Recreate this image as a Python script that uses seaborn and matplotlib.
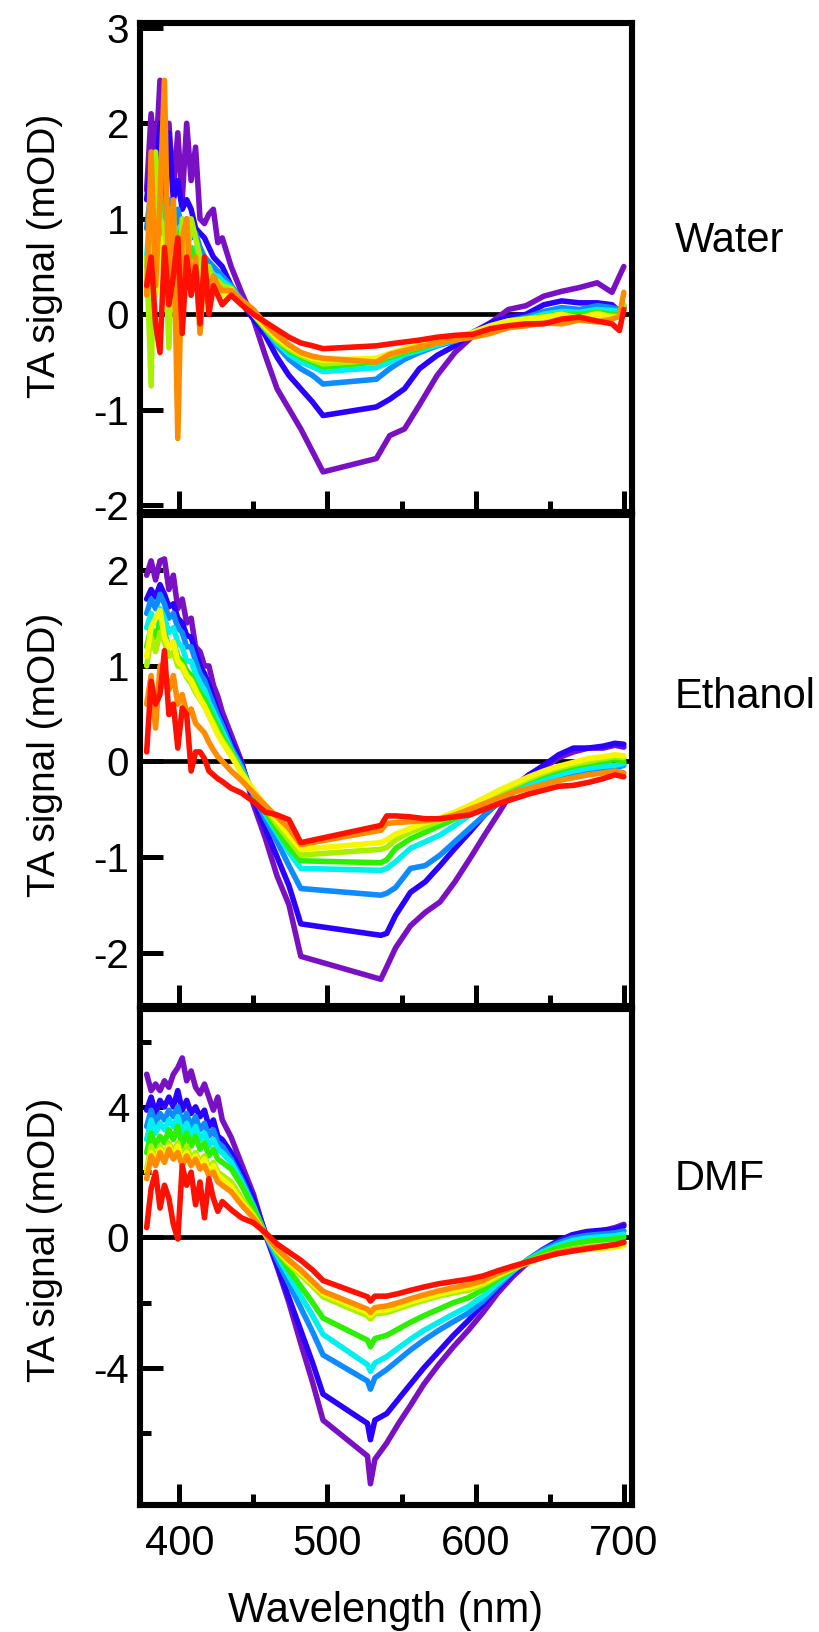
import matplotlib
matplotlib.use("Agg")
import matplotlib.pyplot as plt
from matplotlib.ticker import FixedLocator
import numpy as np
import pandas as pd
import seaborn as sns

# ---------------- data ----------------
series_names = ["purple", "blue", "dodger", "cyan", "green", "lime", "yellow", "orange", "red"]
series_colors = ["#7A10C4", "#2A00FF", "#0E8CFF", "#00F0F0", "#2CF000",
                 "#A8F000", "#F6F600", "#FF8C00", "#FF1000"]

noisy_wl = [378, 381, 384, 387, 390, 393, 396, 399, 402, 405, 408, 411, 414, 417, 420, 423, 426, 429]

# ---- Water ----
water_wl = noisy_wl + [435, 442, 450, 458, 466, 474, 482, 490, 497,
                       533, 542, 552, 562, 574, 586, 598, 610, 622, 634, 646, 658, 670, 682, 692, 697, 700]
water_purple = [1.3, 2.1, 1.6, 2.45, 1.5, 2.0, 1.3, 1.9, 1.2, 2.0, 1.4, 1.75, 1.0, 0.95, 1.05, 1.1, 0.75, 0.8,
                0.5, 0.23, -0.05, -0.43, -0.78, -0.99, -1.2, -1.44, -1.65,
                -1.51, -1.27, -1.2, -0.95, -0.64, -0.40, -0.23, -0.09, 0.05, 0.09, 0.19, 0.24, 0.28, 0.33, 0.23, 0.40, 0.50]
water_blue = [1.2, 1.6, 1.3, 2.0, 1.4, 1.9, 1.2, 1.4, 1.1, 1.2, 1.1, 0.9, 0.85, 0.8, 0.7, 0.6, 0.55, 0.5,
              0.3, 0.12, -0.05, -0.22, -0.45, -0.64, -0.78, -0.92, -1.06,
              -0.97, -0.89, -0.78, -0.57, -0.43, -0.33, -0.19, -0.09, -0.03, 0.0, 0.1, 0.14, 0.12, 0.12, 0.1, 0.03, 0.07]
water_dodger = [0.9, 1.3, 0.9, 1.5, 1.0, 1.2, 0.8, 1.1, 0.9, 1.0, 0.8, 0.85, 0.7, 0.6, 0.55, 0.5, 0.45, 0.4,
                0.3, 0.15, 0.0, -0.16, -0.33, -0.47, -0.57, -0.64, -0.73,
                -0.68, -0.57, -0.47, -0.40, -0.33, -0.28, -0.19, -0.12, -0.07, -0.03, 0.03, 0.07, 0.05, 0.09, 0.07, 0.05, 0.09]
water_cyan = [0.6, 1.2, 0.8, 1.3, 0.7, 1.1, 0.6, 0.9, 0.7, 0.8, 0.6, 0.7, 0.6, 0.5, 0.5, 0.4, 0.4, 0.35,
              0.28, 0.14, 0.0, -0.15, -0.3, -0.42, -0.5, -0.55, -0.6,
              -0.56, -0.5, -0.42, -0.38, -0.32, -0.27, -0.2, -0.13, -0.07, -0.05, 0.0, 0.03, 0.02, 0.05, 0.04, 0.03, 0.05]
water_green = [0.5, 1.0, 0.4, 1.2, 0.6, 1.0, 0.5, 0.8, 0.9, 0.6, 0.7, 0.5, 0.6, 0.45, 0.4, 0.35, 0.35, 0.3,
               0.27, 0.13, 0.0, -0.15, -0.28, -0.38, -0.45, -0.5, -0.55,
               -0.5, -0.45, -0.4, -0.36, -0.3, -0.27, -0.2, -0.14, -0.08, -0.05, -0.02, 0.0, 0.0, 0.02, 0.0, 0.0, 0.05]
water_lime = [0.6, -0.75, 1.7, 1.0, 0.9, -0.35, 1.1, -0.2, 1.0, 0.5, 1.0, 0.8, 0.6, 0.4, 0.5, 0.3, 0.35, 0.3,
              0.27, 0.12, 0.0, -0.14, -0.27, -0.36, -0.43, -0.48, -0.52,
              -0.48, -0.43, -0.38, -0.34, -0.29, -0.26, -0.2, -0.13, -0.08, -0.06, -0.03, -0.02, -0.04, 0.0, -0.02, -0.03, 0.1]
water_yellow = [0.3, 0.9, 0.2, 0.8, 0.4, 0.6, 0.2, 0.7, 0.6, 0.4, 0.55, 0.5, 0.4, 0.35, 0.3, 0.3, 0.25, 0.2,
                0.26, 0.12, 0.0, -0.13, -0.25, -0.34, -0.41, -0.46, -0.48,
                -0.46, -0.41, -0.36, -0.32, -0.28, -0.24, -0.19, -0.12, -0.07, -0.05, -0.03, 0.0, -0.04, 0.01, -0.03, -0.02, 0.05]
water_orange = [0.2, 1.7, 0.3, 1.2, 2.45, 0.1, 1.2, -1.3, 0.8, 1.0, 0.2, 0.6, -0.2, 0.5, 0.2, 0.4, 0.3, 0.25,
                0.25, 0.15, 0.05, -0.1, -0.22, -0.32, -0.4, -0.44, -0.46,
                -0.5, -0.42, -0.38, -0.34, -0.3, -0.27, -0.24, -0.2, -0.14, -0.12, -0.09, -0.1, -0.06, -0.08, -0.05, -0.02, 0.23]
water_red = [0.3, 0.6, -0.1, -0.4, 0.7, 0.1, 0.4, 0.8, -0.2, 0.6, 0.2, 0.5, -0.1, 0.6, 0.0, 0.3, 0.2, 0.1,
             0.2, 0.1, 0.0, -0.08, -0.16, -0.24, -0.3, -0.33, -0.36,
             -0.33, -0.31, -0.29, -0.27, -0.24, -0.22, -0.21, -0.15, -0.12, -0.1, -0.1, -0.05, -0.03, -0.07, -0.1, -0.17, 0.05]

# ---- Ethanol ----
ethanol_wl = noisy_wl + [435, 442, 450, 458, 466, 474, 482, 536, 540,
                         546, 556, 566, 576, 586, 596, 606, 616, 626, 636, 646, 656, 666, 676, 686, 694, 700]
ethanol_purple = [1.95, 2.1, 1.9, 2.1, 2.12, 1.8, 1.95, 1.6, 1.7, 1.45, 1.5, 1.2, 1.15, 1.0, 1.0, 0.8, 0.68, 0.52,
                  0.28, 0.0, -0.45, -0.8, -1.2, -1.5, -2.04, -2.28, -2.15,
                  -1.95, -1.72, -1.58, -1.47, -1.26, -1.02, -0.77, -0.53, -0.28, -0.14, -0.07, 0.04, 0.1, 0.14, 0.14, 0.17, 0.15]
ethanol_blue = [1.7, 1.8, 1.72, 1.85, 1.75, 1.62, 1.65, 1.5, 1.45, 1.32, 1.3, 1.15, 1.0, 0.92, 0.8, 0.66, 0.52, 0.42,
                0.2, -0.02, -0.4, -0.7, -1.0, -1.3, -1.7, -1.82, -1.8,
                -1.61, -1.37, -1.26, -1.09, -0.91, -0.74, -0.56, -0.42, -0.26, -0.14, -0.04, 0.07, 0.14, 0.14, 0.16, 0.19, 0.18]
ethanol_dodger = [1.55, 1.7, 1.6, 1.75, 1.65, 1.5, 1.55, 1.4, 1.35, 1.2, 1.2, 1.05, 0.92, 0.85, 0.72, 0.6, 0.48, 0.38,
                  0.15, -0.05, -0.35, -0.6, -0.84, -1.09, -1.33, -1.4, -1.38,
                  -1.32, -1.12, -1.09, -0.98, -0.84, -0.7, -0.56, -0.42, -0.32, -0.25, -0.21, -0.18, -0.14, -0.1, -0.09, -0.07, -0.04]
ethanol_cyan = [1.4, 1.55, 1.45, 1.6, 1.5, 1.35, 1.4, 1.25, 1.2, 1.05, 1.05, 0.92, 0.82, 0.75, 0.62, 0.52, 0.42, 0.32,
                0.12, -0.08, -0.33, -0.55, -0.75, -0.95, -1.12, -1.14, -1.12,
                -1.05, -0.91, -0.84, -0.77, -0.67, -0.56, -0.46, -0.35, -0.28, -0.23, -0.18, -0.14, -0.1, -0.07, -0.05, -0.04, -0.02]
ethanol_green = [1.2, 1.4, 1.3, 1.45, 1.35, 1.2, 1.25, 1.1, 1.05, 0.95, 0.9, 0.8, 0.72, 0.65, 0.55, 0.45, 0.36, 0.26,
                 0.1, -0.1, -0.32, -0.52, -0.72, -0.9, -1.04, -1.06, -1.03,
                 -0.91, -0.81, -0.74, -0.67, -0.6, -0.51, -0.42, -0.33, -0.26, -0.19, -0.14, -0.09, -0.05, -0.02, 0.0, 0.02, 0.0]
ethanol_lime = [1.0, 1.3, 1.15, 1.35, 1.25, 1.1, 1.15, 1.0, 0.98, 0.88, 0.82, 0.72, 0.65, 0.58, 0.48, 0.4, 0.3, 0.22,
                0.08, -0.12, -0.3, -0.48, -0.66, -0.82, -0.98, -0.92, -0.9,
                -0.82, -0.74, -0.68, -0.62, -0.56, -0.48, -0.4, -0.32, -0.25, -0.18, -0.12, -0.07, -0.03, 0.0, 0.03, 0.05, 0.04]
ethanol_yellow = [1.1, 1.4, 1.5, 1.58, 1.3, 1.2, 1.25, 1.05, 1.0, 0.9, 0.85, 0.75, 0.66, 0.58, 0.48, 0.38, 0.28, 0.2,
                  0.06, -0.12, -0.3, -0.46, -0.62, -0.77, -0.92, -0.85, -0.82,
                  -0.76, -0.7, -0.64, -0.59, -0.53, -0.46, -0.38, -0.3, -0.23, -0.16, -0.1, -0.05, -0.01, 0.03, 0.05, 0.07, 0.06]
ethanol_orange = [0.6, 0.9, 0.35, 1.0, 0.8, 0.75, 0.9, 0.6, 0.7, 0.5, 0.55, 0.4, 0.35, 0.3, 0.2, 0.12, 0.05, 0.0,
                  -0.1, -0.2, -0.33, -0.46, -0.58, -0.7, -0.87, -0.72, -0.65,
                  -0.64, -0.63, -0.62, -0.6, -0.56, -0.5, -0.44, -0.38, -0.32, -0.28, -0.24, -0.2, -0.17, -0.14, -0.12, -0.1, -0.12]
ethanol_red = [0.1, 0.84, 0.6, 0.7, 1.16, 0.49, 0.6, 0.14, 0.56, 0.49, -0.1, 0.1, 0.1, 0.03, -0.1, -0.14, -0.18, -0.21,
               -0.28, -0.33, -0.42, -0.53, -0.56, -0.61, -0.85, -0.67, -0.57,
               -0.57, -0.58, -0.6, -0.6, -0.58, -0.56, -0.5, -0.44, -0.39, -0.34, -0.3, -0.26, -0.25, -0.22, -0.18, -0.14, -0.16]

# ---- DMF ----
dmf_wl = noisy_wl + [435, 442, 450, 458, 466, 474, 482, 490, 497, 527, 529, 532,
                     540, 548, 556, 565, 575, 585, 595, 605, 615, 625, 635, 645, 655, 665, 675, 685, 694, 700]
dmf_purple = [5.0, 4.5, 4.7, 4.5, 4.8, 4.6, 5.0, 5.2, 5.5, 4.8, 5.1, 4.6, 4.4, 4.7, 4.3, 3.9, 4.3, 3.6,
              3.07, 2.25, 1.33, 0.1, -0.9, -2.0, -3.25, -4.45, -5.6, -6.7, -7.55, -6.8,
              -6.3, -5.7, -5.15, -4.5, -3.9, -3.35, -2.85, -2.3, -1.7, -1.2, -0.78, -0.45, -0.15, 0.05, 0.15, 0.2, 0.3, 0.4]
dmf_blue = [3.9, 4.3, 3.8, 4.2, 4.0, 4.3, 4.0, 4.5, 3.9, 4.2, 3.8, 4.0, 3.7, 3.9, 3.4, 3.6, 3.1, 3.0,
            2.6, 2.0, 1.2, 0.15, -0.85, -1.85, -2.85, -3.85, -4.8, -5.7, -6.2, -5.6,
            -5.4, -4.95, -4.5, -4.0, -3.5, -3.0, -2.55, -2.05, -1.55, -1.1, -0.7, -0.38, -0.12, 0.08, 0.18, 0.22, 0.25, 0.35]
dmf_dodger = [3.4, 3.9, 3.5, 3.8, 3.6, 3.9, 3.7, 4.0, 3.5, 3.8, 3.4, 3.7, 3.3, 3.5, 3.1, 3.3, 2.9, 2.8,
              2.4, 1.8, 1.0, 0.1, -0.68, -1.42, -2.16, -2.9, -3.6, -4.4, -4.65, -4.3,
              -4.05, -3.75, -3.45, -3.15, -2.85, -2.58, -2.32, -1.95, -1.48, -1.05, -0.68, -0.4, -0.18, -0.02, 0.06, 0.1, 0.14, 0.2]
dmf_cyan = [3.0, 3.6, 3.2, 3.5, 3.3, 3.6, 3.4, 3.7, 3.2, 3.5, 3.1, 3.4, 3.0, 3.2, 2.8, 3.0, 2.7, 2.6,
            2.3, 1.7, 0.95, 0.1, -0.54, -1.18, -1.8, -2.4, -2.97, -3.9, -4.1, -3.85,
            -3.65, -3.38, -3.12, -2.85, -2.6, -2.35, -2.12, -1.8, -1.4, -1.02, -0.7, -0.45, -0.25, -0.1, -0.02, 0.02, 0.05, 0.1]
dmf_green = [2.6, 3.2, 2.8, 3.1, 2.9, 3.3, 3.0, 3.4, 2.8, 3.2, 2.8, 3.1, 2.7, 2.9, 2.5, 2.7, 2.4, 2.3,
             2.1, 1.6, 0.9, 0.1, -0.45, -1.0, -1.5, -2.0, -2.47, -3.15, -3.35, -3.1,
             -3.0, -2.8, -2.6, -2.4, -2.2, -2.0, -1.85, -1.6, -1.28, -0.98, -0.72, -0.5, -0.32, -0.2, -0.12, -0.08, -0.05, 0.0]
dmf_lime = [2.1, 2.8, 2.4, 2.8, 2.5, 2.9, 2.6, 2.9, 2.4, 2.8, 2.4, 2.6, 2.3, 2.5, 2.1, 2.3, 2.0, 1.9,
            1.7, 1.2, 0.7, 0.1, -0.42, -0.82, -1.15, -1.5, -1.82, -2.4, -2.5, -2.35,
            -2.3, -2.18, -2.06, -1.93, -1.8, -1.7, -1.62, -1.45, -1.2, -0.96, -0.76, -0.58, -0.45, -0.36, -0.3, -0.26, -0.22, -0.18]
dmf_yellow = [2.0, 2.6, 2.3, 2.7, 2.4, 2.8, 2.5, 2.8, 2.3, 2.6, 2.3, 2.5, 2.2, 2.4, 2.0, 2.2, 1.9, 1.8,
              1.55, 1.1, 0.65, 0.1, -0.38, -0.76, -1.08, -1.42, -1.72, -2.3, -2.4, -2.25,
              -2.22, -2.1, -1.98, -1.86, -1.74, -1.63, -1.54, -1.4, -1.16, -0.95, -0.78, -0.62, -0.5, -0.42, -0.37, -0.33, -0.3, -0.25]
dmf_orange = [1.8, 2.5, 2.2, 2.6, 2.3, 2.7, 2.4, 2.6, 2.2, 2.5, 2.2, 2.4, 2.1, 2.2, 1.9, 2.0, 1.7, 1.6,
              1.4, 1.0, 0.6, 0.1, -0.35, -0.7, -1.0, -1.35, -1.65, -2.2, -2.3, -2.15,
              -2.1, -2.0, -1.88, -1.76, -1.64, -1.54, -1.45, -1.32, -1.1, -0.92, -0.76, -0.6, -0.47, -0.38, -0.32, -0.28, -0.22, -0.15]
dmf_red = [0.3, 1.5, 2.0, 0.9, 1.6, 1.2, 0.4, -0.05, 2.2, 1.6, 2.0, 1.0, 1.7, 0.6, 1.8, 1.2, 0.8, 1.1,
           0.85, 0.6, 0.45, 0.15, -0.2, -0.45, -0.7, -1.0, -1.32, -1.82, -1.95, -1.8,
           -1.8, -1.72, -1.62, -1.52, -1.42, -1.35, -1.28, -1.18, -1.02, -0.88, -0.75, -0.62, -0.5, -0.42, -0.35, -0.28, -0.22, -0.15]

panel_names = ["Water", "Ethanol", "DMF"]
ylabel_text = "TA signal (mOD)"
xlabel_text = "Wavelength (nm)"
xtick_labels = ["400", "500", "600", "700"]


def long_frame(wl, series_list):
    rows = []
    for name, vals in zip(series_names, series_list):
        rows.append(pd.DataFrame({"wl": wl, "val": vals, "series": name}))
    return pd.concat(rows, ignore_index=True)


frames = [
    long_frame(water_wl, [water_purple, water_blue, water_dodger, water_cyan, water_green,
                          water_lime, water_yellow, water_orange, water_red]),
    long_frame(ethanol_wl, [ethanol_purple, ethanol_blue, ethanol_dodger, ethanol_cyan, ethanol_green,
                            ethanol_lime, ethanol_yellow, ethanol_orange, ethanol_red]),
    long_frame(dmf_wl, [dmf_purple, dmf_blue, dmf_dodger, dmf_cyan, dmf_green,
                        dmf_lime, dmf_yellow, dmf_orange, dmf_red]),
]

# ---------------- style ----------------
sns.set_style("white")
plt.rcParams["font.family"] = ["Liberation Sans", "DejaVu Sans"]
plt.rcParams["axes.unicode_minus"] = False
plt.rcParams["text.color"] = "black"
plt.rcParams["xtick.color"] = "black"
plt.rcParams["ytick.color"] = "black"
plt.rcParams["xtick.labelcolor"] = "black"
plt.rcParams["ytick.labelcolor"] = "black"

W, H = 819, 1632
fig = plt.figure(figsize=(W / 100, H / 100), dpi=100)

left, right = 140 / W, 632 / W
boxes = [(23, 512), (515, 1006), (1009, 1505)]
ylims = [(-2.07, 3.05), (-2.56, 2.58), (-8.2, 7.0)]
ymajor = [[-2, -1, 0, 1, 2, 3], [-2, -1, 0, 1, 2], [-4, 0, 4]]
yminor = [[], [], [-6, -2, 2, 6]]
label_y = [256, 755, 1240]
name_base = [252, 708, 1190]

palette = dict(zip(series_names, series_colors))

for i in range(3):
    top, bot = boxes[i]
    ax = fig.add_axes([left, 1 - bot / H, right - left, (bot - top) / H])
    ax.axhline(0, color="black", lw=3.4, zorder=1)
    sns.lineplot(data=frames[i], x="wl", y="val", hue="series", hue_order=series_names,
                 palette=palette, estimator=None, sort=False, legend=False,
                 linewidth=4.0, ax=ax, zorder=2)
    for ln in ax.get_lines()[1:]:
        ln.set_linewidth(4.0)
        ln.set_solid_joinstyle("round")
        ln.set_solid_capstyle("round")
    ax.set_xlim(373.5, 705.5)
    ax.set_ylim(*ylims[i])
    ax.set_xlabel("")
    ax.set_ylabel("")
    ax.xaxis.set_major_locator(FixedLocator([400, 500, 600, 700]))
    ax.xaxis.set_minor_locator(FixedLocator([450, 550, 650]))
    ax.yaxis.set_major_locator(FixedLocator(ymajor[i]))
    ax.yaxis.set_minor_locator(FixedLocator(yminor[i]))
    ax.set_yticklabels([str(v) for v in ymajor[i]])
    if i == 2:
        ax.set_xticklabels(xtick_labels)
    else:
        ax.set_xticklabels([])
    for s in ax.spines.values():
        s.set_linewidth(4.4)
        s.set_color("black")
        s.set_visible(True)
        s.set_zorder(5)
    ax.tick_params(axis="both", which="both", direction="in", color="black",
                   bottom=True, left=True, top=False, right=False)
    ax.tick_params(axis="x", which="major", length=15, width=3.6, labelsize=30, pad=14)
    ax.tick_params(axis="x", which="minor", length=8, width=3.6)
    ax.tick_params(axis="y", which="major", length=16.5, width=3.6, labelsize=29, pad=8)
    ax.tick_params(axis="y", which="minor", length=8, width=3.6)
    ax.set_facecolor("white")

    fig.text(45 / W, 1 - label_y[i] / H, ylabel_text, rotation=90, ha="center", va="center",
             fontsize=28, color="black")
    fig.text(675 / W, 1 - name_base[i] / H, panel_names[i], ha="left", va="baseline",
             fontsize=30, color="black")

fig.text((140 + 632) / 2 / W, 1 - 1622 / H, xlabel_text, ha="center", va="baseline",
         fontsize=30, color="black")

fig.savefig("out.png", dpi=100, facecolor="white")
